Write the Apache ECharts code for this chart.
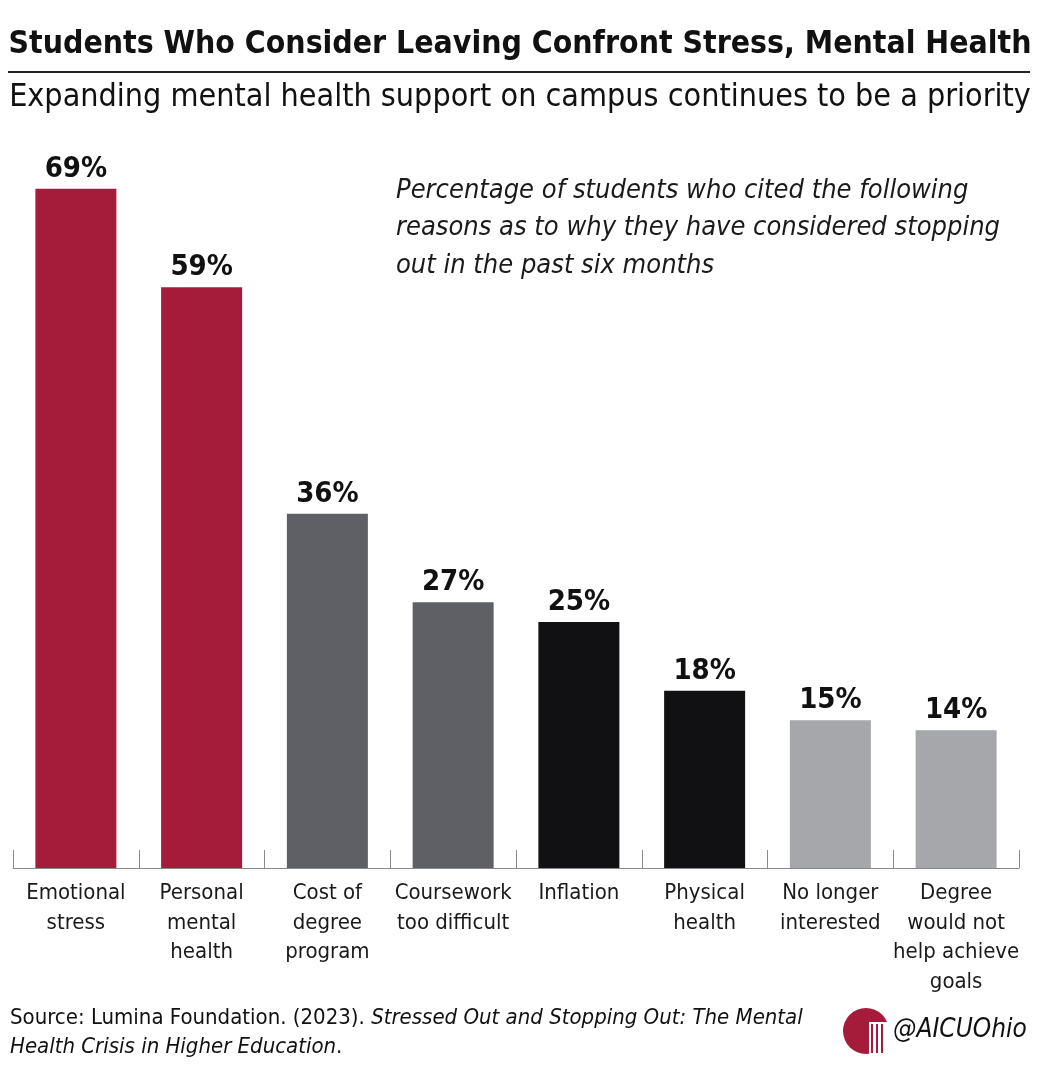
<!DOCTYPE html>
<html>
<head>
<meta charset="utf-8">
<script src="https://cdn.jsdelivr.net/npm/echarts@6/dist/echarts.min.js"></script>
<style>
  html, body { margin: 0; padding: 0; background: #fff; }
  #chart { width: 1040px; height: 1068px; }
</style>
</head>
<body>
<div id="chart"></div>
<script>
// Reasons students considered stopping out (Lumina Foundation 2023).
const categories = [
  'Emotional\nstress',
  'Personal\nmental\nhealth',
  'Cost of\ndegree\nprogram',
  'Coursework\ntoo difficult',
  'Inflation',
  'Physical\nhealth',
  'No longer\ninterested',
  'Degree\nwould not\nhelp achieve\ngoals'
];
const values = [69, 59, 36, 27, 25, 18, 15, 14];
const barColors = ['#A51C3B', '#A51C3B', '#5E6065', '#5E6065', '#111114', '#111114', '#A6A7AB', '#A6A7AB'];

const FONT = "'Liberation Sans Narrow', 'DejaVu Sans Condensed', 'Noto Sans', sans-serif";
const chart = echarts.init(document.getElementById('chart'), null, { renderer: 'canvas' });

chart.setOption({
  animation: false,
  backgroundColor: '#fff',
  textStyle: { fontFamily: FONT },
  grid: { left: 13, right: 21, top: 179, bottom: 200 },
  xAxis: {
    type: 'category',
    data: categories,
    axisLine: { lineStyle: { color: '#8a8a8a', width: 1 } },
    axisTick: { show: true, inside: true, length: 18, lineStyle: { color: '#8a8a8a' } },
    axisLabel: {
      color: '#1a1a1a', fontSize: 22, lineHeight: 29.5, margin: 11,
      fontFamily: FONT, interval: 0
    }
  },
  yAxis: { type: 'value', min: 0, max: 70, show: false, splitLine: { show: false } },
  series: [{
    type: 'bar',
    barWidth: 81,
    data: values.map(function (v, i) { return { value: v, itemStyle: { color: barColors[i] } }; }),
    label: {
      show: true, position: 'top', distance: 5,
      formatter: '{c}%', color: '#111', fontSize: 29, fontWeight: 'bold', fontFamily: FONT
    }
  }],
  graphic: [
    { type: 'text', left: 'center', top: 29, style: {
      text: 'Students Who Consider Leaving Confront Stress, Mental Health',
      font: 'bold 31.7px ' + FONT, fill: '#111' } },
    { type: 'rect', shape: { x: 8, y: 71, width: 1022, height: 2 }, style: { fill: '#222' } },
    { type: 'text', left: 'center', top: 82, style: {
      text: 'Expanding mental health support on campus continues to be a priority',
      font: '32px ' + FONT, fill: '#111' } },
    { type: 'text', left: 396, top: 172, style: {
      text: 'Percentage of students who cited the following\nreasons as to why they have considered stopping\nout in the past six months',
      font: 'italic 27px ' + FONT, fill: '#1a1a1a', lineHeight: 37.5 } },
    { type: 'text', left: 10, top: 1007, style: {
      text: '{r|Source: Lumina Foundation. (2023). }{i|Stressed Out and Stopping Out: The Mental}\n{i|Health Crisis in Higher Education}{r|.}',
      rich: {
        r: { font: '22px ' + FONT, fill: '#111', lineHeight: 29 },
        i: { font: 'italic 22px ' + FONT, fill: '#111', lineHeight: 29 }
      } } },
    // logo
    { type: 'circle', shape: { cx: 866, cy: 1031, r: 23 }, style: { fill: '#A51C3B' } },
    { type: 'rect', shape: { x: 869, y: 1022, width: 24, height: 35 }, style: { fill: '#fff' } },
    { type: 'rect', shape: { x: 871, y: 1024, width: 2, height: 29 }, style: { fill: '#A51C3B' } },
    { type: 'rect', shape: { x: 876, y: 1024, width: 2, height: 29 }, style: { fill: '#A51C3B' } },
    { type: 'rect', shape: { x: 881, y: 1024, width: 2, height: 29 }, style: { fill: '#A51C3B' } },
    { type: 'text', left: 893, top: 1017, style: {
      text: '@AICUOhio', font: 'italic 26px ' + FONT, fill: '#111' } }
  ]
});
</script>
</body>
</html>
